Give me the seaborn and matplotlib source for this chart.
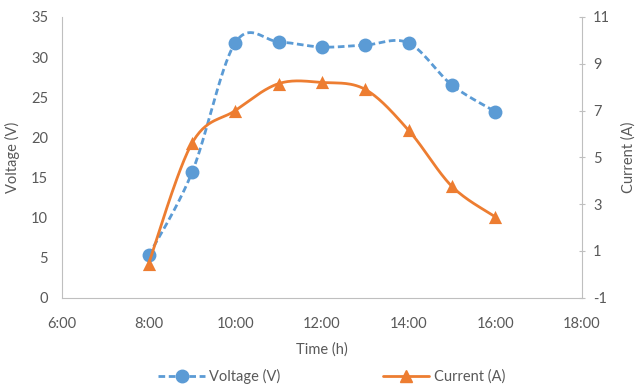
import numpy as np
import pandas as pd
import matplotlib
matplotlib.use("Agg")
import matplotlib.pyplot as plt
from matplotlib.lines import Line2D
import seaborn as sns

hours = [8, 9, 10, 11, 12, 13, 14, 15, 16]
voltage = [5.25, 15.6, 31.8, 31.9, 31.25, 31.5, 31.75, 26.5, 23.2]
current = [0.45, 5.6, 7.0, 8.15, 8.2, 7.9, 6.15, 3.75, 2.45]
xticks = [6, 8, 10, 12, 14, 16, 18]
xticklabels = ["6:00", "8:00", "10:00", "12:00", "14:00", "16:00", "18:00"]

BLUE = "#5B9BD5"
ORANGE = "#ED7D31"
GREY = "#595959"
AXC = "#BFBFBF"

sns.set_style("white")
plt.rcParams['font.family'] = ['Lato', 'DejaVu Sans']
plt.rcParams['font.size'] = 10.5
plt.rcParams['axes.unicode_minus'] = False


def smooth(x, y, n=30):
    # Excel-like smoothing (Catmull-Rom Bezier) through the data points
    p = np.column_stack([x, y]).astype(float)
    pts = np.vstack([p[0], p, p[-1]])
    out = []
    t = np.linspace(0, 1, n)[:, None]
    for i in range(1, len(pts) - 2):
        p0, p1, p2, p3 = pts[i - 1], pts[i], pts[i + 1], pts[i + 2]
        b1 = p1 + (p2 - p0) / 6
        b2 = p2 - (p3 - p1) / 6
        seg = ((1 - t) ** 3) * p1 + 3 * ((1 - t) ** 2) * t * b1 + 3 * (1 - t) * t ** 2 * b2 + t ** 3 * p2
        out.append(seg if i == 1 else seg[1:])
    s = np.vstack(out)
    return s[:, 0], s[:, 1]


fig = plt.figure(figsize=(6.38, 3.88), dpi=100)
ax = fig.add_axes([62 / 638, 1 - 297.5 / 388, (582 - 62) / 638, (297.5 - 17) / 388])
ax2 = ax.twinx()

vx, vy = smooth(hours, voltage)
cx, cy = smooth(hours, current)

ax.plot(vx, vy, color=BLUE, lw=2, linestyle=(0, (2.4, 1.3)), zorder=3)
sns.scatterplot(x=hours, y=voltage, ax=ax, color=BLUE, s=100, marker="o", edgecolor=BLUE, linewidth=0, zorder=4)
ax2.plot(cx, cy, color=ORANGE, lw=2, zorder=3)
sns.scatterplot(x=hours, y=current, ax=ax2, color=ORANGE, s=90, marker="^", edgecolor=ORANGE, linewidth=0, zorder=4)

ax.set_xlim(6, 18)
ax.set_ylim(0, 35)
ax2.set_ylim(-1, 11)
ax.set_xticks(xticks)
ax.set_xticklabels(xticklabels)
ax.set_yticks(range(0, 36, 5))
ax2.set_yticks(range(-1, 12, 2))

for a in (ax, ax2):
    for s in a.spines.values():
        s.set_visible(False)
    a.tick_params(colors=GREY, labelsize=10.5)
ax.spines['left'].set_visible(True)
ax.spines['left'].set_color(AXC)
ax.spines['bottom'].set_visible(True)
ax.spines['bottom'].set_color(AXC)
ax2.spines['right'].set_visible(True)
ax2.spines['right'].set_color(AXC)
ax.tick_params(axis='x', length=0, pad=14)
ax.tick_params(axis='y', length=0, pad=10)
ax2.tick_params(axis='y', length=4, direction='inout', color=AXC, labelcolor=GREY, pad=6)

ax.set_xlabel("Time (h)", color=GREY, fontsize=10.5, labelpad=8)
ax.set_ylabel("Voltage (V)", color=GREY, fontsize=10.5, labelpad=8)
ax2.set_ylabel("Current (A)", color=GREY, fontsize=10.5, labelpad=8)

handles = [
    Line2D([], [], color=BLUE, lw=2, linestyle=(0, (2.4, 1.3)), marker="o", markersize=9),
    Line2D([], [], color=ORANGE, lw=2, marker="^", markersize=9),
]
fig.legend(handles, ["Voltage (V)", "Current (A)"], loc="center", bbox_to_anchor=(0.52, 0.03),
           ncol=2, frameon=False, handlelength=3.2, columnspacing=7, handletextpad=0.3,
           labelcolor=GREY, fontsize=10.5)

fig.savefig("out.png", dpi=100)
